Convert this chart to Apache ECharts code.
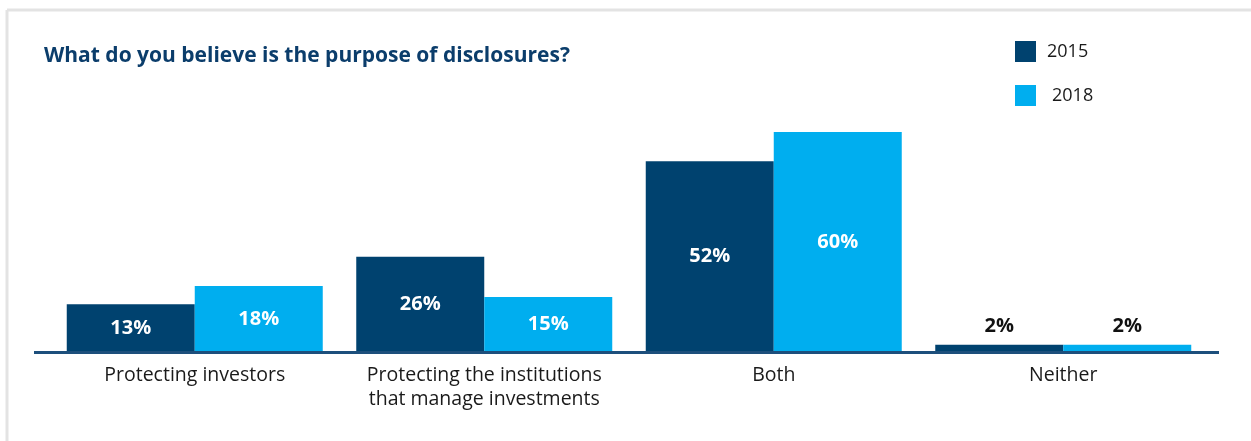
<!DOCTYPE html>
<html>
<head>
<meta charset="utf-8">
<title>Purpose of disclosures</title>
<script src="https://cdn.jsdelivr.net/npm/echarts@6/dist/echarts.min.js"></script>
<style>
  html, body { margin: 0; padding: 0; background: #fff; }
  #chart { width: 1251px; height: 441px; }
</style>
</head>
<body>
<div id="chart"></div>
<script>
const categories = ['Protecting investors', 'Protecting the institutions\nthat manage investments', 'Both', 'Neither'];
const years = ['2015', '2018'];
const values2015 = [13, 26, 52, 2];
const values2018 = [18, 15, 60, 2];

const dark = '#00426f';
const light = '#00aeef';
const font = 'Open Sans';

// small bars get their label above the bar in black
function labelled(values) {
  return values.map(v => v < 5
    ? { value: v, label: { position: 'top', color: '#111', distance: 8 } }
    : v);
}

let chart = echarts.init(document.getElementById('chart'));

const barLabel = {
  show: true,
  position: 'inside',
  formatter: '{c}%',
  fontFamily: font,
  fontSize: 20,
  fontWeight: 'bold',
  color: '#fff'
};

const option = {
  animation: false,
  textStyle: { fontFamily: font },
  title: {
    text: 'What do you believe is the purpose of disclosures?',
    left: 39,
    top: 41,
    textStyle: { fontFamily: font, fontSize: 21, fontWeight: 'bold', color: '#0b3d6b' }
  },
  legend: {
    orient: 'vertical',
    left: 1010,
    top: 36,
    itemWidth: 21,
    itemHeight: 21,
    itemGap: 23,
    icon: 'rect',
    textStyle: { fontFamily: font, fontSize: 18, color: '#1a1a1a', padding: [0, 0, 0, 6] },
    data: [
      { name: years[0] },
      { name: years[1], textStyle: { padding: [0, 0, 0, 11] } }
    ]
  },
  grid: { left: 50, right: 43, top: 132, bottom: 89 },
  xAxis: {
    type: 'category',
    data: categories,
    axisLine: { show: false },
    axisTick: { show: false },
    axisLabel: {
      interval: 0,
      hideOverlap: false,
      fontFamily: font,
      fontSize: 19.5,
      color: '#1a1a1a',
      lineHeight: 24,
      margin: 11
    }
  },
  yAxis: {
    type: 'value',
    min: 0,
    max: 60,
    show: false,
    splitLine: { show: false }
  },
  graphic: [
    // frame of the original figure (top and left edges)
    { type: 'line', shape: { x1: 7, y1: 10, x2: 1251, y2: 10 }, style: { stroke: '#e3e3e3', lineWidth: 3 } },
    { type: 'line', shape: { x1: 7, y1: 10, x2: 7, y2: 441 }, style: { stroke: '#e3e3e3', lineWidth: 3 } },
    // baseline, a bit wider than the plot
    { type: 'line', z: 100, shape: { x1: 34, y1: 352.5, x2: 1219, y2: 352.5 }, style: { stroke: '#1d4f7c', lineWidth: 3 } }
  ],
  series: [
    {
      name: years[0],
      type: 'bar',
      data: labelled(values2015),
      barWidth: 128,
      barGap: '0%',
      itemStyle: { color: dark },
      label: barLabel
    },
    {
      name: years[1],
      type: 'bar',
      data: labelled(values2018),
      barWidth: 128,
      barGap: '0%',
      itemStyle: { color: light },
      label: barLabel
    }
  ]
};

chart.setOption(option);
</script>
</body>
</html>
